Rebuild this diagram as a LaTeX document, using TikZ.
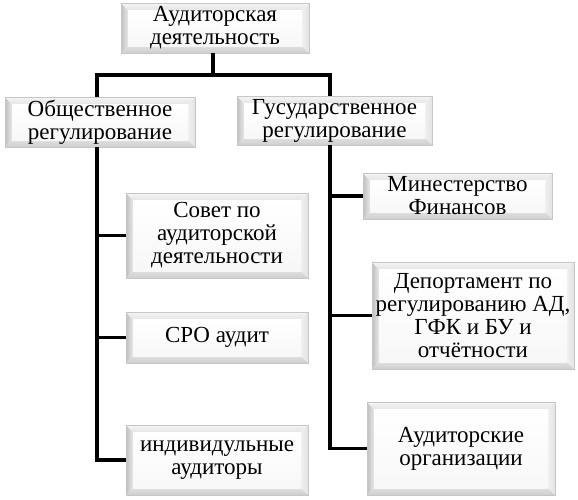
\documentclass[tikz,border=0pt]{standalone}
\usepackage{fontspec}
\setmainfont{Liberation Serif}
\usetikzlibrary{calc}
\tikzset{
  bev/.style={inner sep=0pt, align=center, font=\fontsize{23}{23}\selectfont,
    path picture={
      \coordinate (bsw) at (path picture bounding box.south west);
      \coordinate (bne) at (path picture bounding box.north east);
      \coordinate (bnw) at (bsw|-bne);
      \coordinate (bse) at (bne|-bsw);
      \coordinate (isw) at ($(bsw)+(7,-7)$);
      \coordinate (ine) at ($(bne)+(-7,7)$);
      \coordinate (inw) at ($(bnw)+(7,7)$);
      \coordinate (ise) at ($(bse)+(-7,-7)$);
      \shade[left color=gray!50, right color=gray!18] (bsw) -- (isw) -- (inw) -- (bnw) -- cycle;
      \shade[top color=gray!8, bottom color=gray!20] (bnw) -- (inw) -- (ine) -- (bne) -- cycle;
      \shade[left color=gray!12, right color=gray!22] (bne) -- (ine) -- (ise) -- (bse) -- cycle;
      \shade[top color=gray!25, bottom color=gray!38] (bse) -- (ise) -- (isw) -- (bsw) -- cycle;
      \shade[top color=white, bottom color=gray!6] (isw) rectangle (ine);
    },
    draw=gray!45, line width=0.6pt},
  conn/.style={line width=3.8pt, black}
}
\begin{document}
\begin{tikzpicture}[x=1pt,y=-1pt]
\useasboundingbox (0,0) rectangle (578,499);
\node[bev, minimum width=188pt, minimum height=50pt] (top) at (215,28) {Аудиторская\\деятельность};
\node[bev, minimum width=190pt, minimum height=50pt] (ob) at (100,122) {Общественное\\регулирование};
\node[bev, minimum width=195pt, minimum height=49pt] (gus) at (334.5,120.5) {Гусударственное\\регулирование};
\node[bev, minimum width=182pt, minimum height=85pt] (sov) at (217,235.5) {Совет по\\аудиторской\\деятельности};
\node[bev, minimum width=182pt, minimum height=51pt] (sro) at (217,337.5) {СРО аудит};
\node[bev, minimum width=182pt, minimum height=70pt] (ind) at (217,460) {индивидульные\\аудиторы};
\node[bev, minimum width=189pt, minimum height=46pt] (min) at (457.5,196) {Минестерство\\Финансов};
\node[bev, minimum width=202pt, minimum height=107pt] (dep) at (473,315.5) {Депортамент по\\регулированию АД,\\ГФК и БУ и\\отчётности};
\node[bev, minimum width=188pt, minimum height=93pt] (aud) at (461,448.5) {Аудиторские\\организации};
\coordinate (j) at (213,75);
\coordinate (lx) at (97,75);
\coordinate (rx) at (330,75);
\draw[conn] (top.south -| j) -- (j);
\draw[conn] (ob.north -| lx) -- (lx) -- (rx) -- (gus.north -| rx);
\draw[conn] (ob.south -| lx) |- (ind.west);
\draw[conn] (lx |- sov.west) -- (sov.west);
\draw[conn] (lx |- sro.west) -- (sro.west);
\draw[conn] (gus.south -| rx) |- (aud.west);
\draw[conn] (rx |- min.west) -- (min.west);
\draw[conn] (rx |- dep.west) -- (dep.west);
\end{tikzpicture}
\end{document}
